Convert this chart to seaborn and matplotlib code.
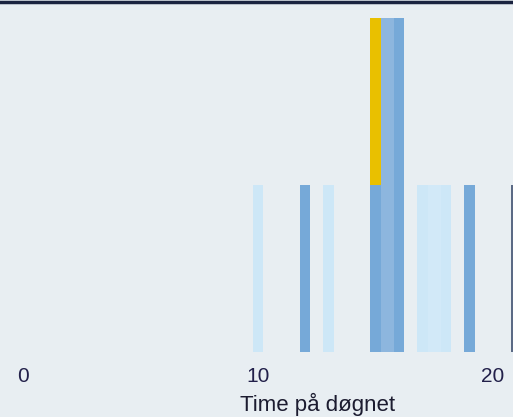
import matplotlib
matplotlib.use("Agg")
import matplotlib.pyplot as plt
import seaborn as sns
import pandas as pd

# ---- data ----
light_hours = [10, 13, 17, 18]
light_values = [1, 1, 1, 1]
medium_hours = [12, 15, 16, 19]
medium_values = [1, 1, 2, 1]
yellow_hours = [15]
yellow_values = [2]
dark_hours = [21]
dark_values = [1]
tick_values = [0, 10, 20]
tick_labels = ["0", "10", "20"]
x_title = "Time på døgnet"

BG = "#e8eef2"
LIGHT = "#cde7f7"
MEDIUM = "#76a9d8"
MID = "#8db6de"
YELLOW = "#e9c000"
DARK = "#5b6a85"
TXT = "#22204a"

sns.set_theme(style="white")
plt.rcParams["font.family"] = ["Liberation Sans", "DejaVu Sans"]

fig = plt.figure(figsize=(5.13, 4.17), dpi=100, facecolor=BG)
ax = fig.add_axes([0, (417 - 352) / 417, 1, 350 / 417])
ax.set_facecolor(BG)

W = 0.43

# connecting fills derived from the data
ax.fill_between([light_hours[2] - W / 2, light_hours[3] + W / 2], 0, light_values[2],
                color="#d2e9f8", lw=0, zorder=1)
ax.fill_between([medium_hours[1], medium_hours[2]], 0, medium_values[2],
                color=MID, lw=0, zorder=1)

def bars(hours, values, color, z):
    df = pd.DataFrame({"hour": hours, "value": values})
    sns.barplot(data=df, x="hour", y="value", native_scale=True, width=W,
                color=color, saturation=1, ax=ax, zorder=z, linewidth=0,
                errorbar=None)

bars(light_hours, light_values, LIGHT, 2)
bars(yellow_hours, yellow_values, YELLOW, 2)
bars(medium_hours, medium_values, MEDIUM, 3)
bars(dark_hours, dark_values, DARK, 2)

ax.set_xlim(-0.98, 20.85)
ax.set_ylim(0, 350 / 167)
ax.set_xticks(tick_values)
ax.set_xticklabels(tick_labels, fontsize=15, color=TXT)
ax.tick_params(axis="x", length=0, pad=10.5)
ax.set_yticks([])
ax.set_ylabel("")
ax.set_xlabel(x_title, fontsize=16, color="#1c1c30")
ax.xaxis.set_label_coords(317.5 / 513, -(404 - 352) / 350, transform=ax.transAxes)
ax.xaxis.label.set_verticalalignment("center")
for s in ["left", "right", "bottom"]:
    ax.spines[s].set_visible(False)
ax.spines["top"].set_color("#1a2340")
ax.spines["top"].set_linewidth(2.5)

fig.savefig("out.png", dpi=100, facecolor=BG)
